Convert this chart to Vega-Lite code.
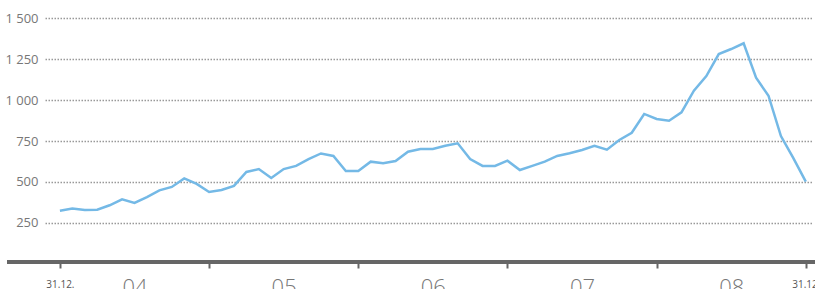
{
  "$schema": "https://vega.github.io/schema/vega-lite/v6.json",
  "width": 767,
  "height": 262,
  "autosize": {"type": "none"},
  "padding": {"left": 45, "top": 0, "right": 3, "bottom": 27},
  "config": {"view": {"stroke": null}, "font": "Open Sans"},
  "data": {"values": [
    {"i":0,"v":325},{"i":1,"v":338},{"i":2,"v":329},{"i":3,"v":331},{"i":4,"v":358},{"i":5,"v":394},
    {"i":6,"v":372},{"i":7,"v":408},{"i":8,"v":449},{"i":9,"v":470},{"i":10,"v":522},{"i":11,"v":488},
    {"i":12,"v":439},{"i":13,"v":451},{"i":14,"v":476},{"i":15,"v":561},{"i":16,"v":579},{"i":17,"v":524},
    {"i":18,"v":579},{"i":19,"v":598},{"i":20,"v":640},{"i":21,"v":674},{"i":22,"v":659},{"i":23,"v":567},
    {"i":24,"v":567},{"i":25,"v":624},{"i":26,"v":614},{"i":27,"v":628},{"i":28,"v":685},{"i":29,"v":701},
    {"i":30,"v":701},{"i":31,"v":721},{"i":32,"v":736},{"i":33,"v":640},{"i":34,"v":598},{"i":35,"v":598},
    {"i":36,"v":630},{"i":37,"v":573},{"i":38,"v":598},{"i":39,"v":624},{"i":40,"v":659},{"i":41,"v":675},
    {"i":42,"v":695},{"i":43,"v":720},{"i":44,"v":697},{"i":45,"v":756},{"i":46,"v":800},{"i":47,"v":915},
    {"i":48,"v":884},{"i":49,"v":874},{"i":50,"v":925},{"i":51,"v":1057},{"i":52,"v":1146},{"i":53,"v":1280},
    {"i":54,"v":1311},{"i":55,"v":1346},{"i":56,"v":1136},{"i":57,"v":1026},{"i":58,"v":780},{"i":59,"v":645},
    {"i":60,"v":502}
  ]},
  "layer": [
    {
      "mark": {"type": "line", "color": "#74b9e6", "strokeWidth": 2.5},
      "encoding": {
        "x": {
          "field": "i", "type": "quantitative",
          "scale": {"domain": [-1.2, 60.5], "nice": false, "zero": false},
          "axis": {
            "title": null, "grid": false, "domain": false,
            "values": [0,6,12,18,24,30,36,42,48,54,60],
            "labelExpr": "datum.value == 0 || datum.value == 60 ? '31.12.' : (datum.value % 12 == 6 ? ['04','05','06','07','08'][floor(datum.value / 12)] : '')",
            "tickColor": "#666666", "tickWidth": 2, "tickSize": 6,
            "tickOpacity": {"condition": {"test": "datum.value % 12 == 6", "value": 0}, "value": 1},
            "labelFontSize": {"condition": {"test": "datum.value % 12 == 6", "value": 22}, "value": 10},
            "labelColor": {"condition": {"test": "datum.value % 12 == 6", "value": "#777777"}, "value": "#555555"},
            "labelFontWeight": {"condition": {"test": "datum.value % 12 == 6", "value": 300}, "value": 400},
            "labelPadding": {"condition": {"test": "datum.value % 12 == 6", "value": 9}, "value": 11},
            "labelBaseline": "top",
            "labelOverlap": false, "labelFlush": false, "labelBound": false
          }
        },
        "y": {
          "field": "v", "type": "quantitative",
          "scale": {"domain": [12, 1610], "nice": false, "zero": false},
          "axis": {
            "title": null, "domain": false, "ticks": false,
            "values": [250,500,750,1000,1250,1500],
            "labelExpr": "replace(format(datum.value, ','), ',', ' ')",
            "labelFontSize": 13, "labelColor": "#777777", "labelPadding": 7,
            "grid": true, "gridColor": "#999999", "gridDash": [1.5, 1.5], "gridWidth": 1.5
          }
        }
      }
    },
    {
      "mark": {"type": "rule", "color": "#666666", "strokeWidth": 4},
      "encoding": {
        "x": {"datum": -4.2, "type": "quantitative"},
        "x2": {"datum": 60.75},
        "y": {"datum": 12, "type": "quantitative"}
      }
    }
  ]
}
